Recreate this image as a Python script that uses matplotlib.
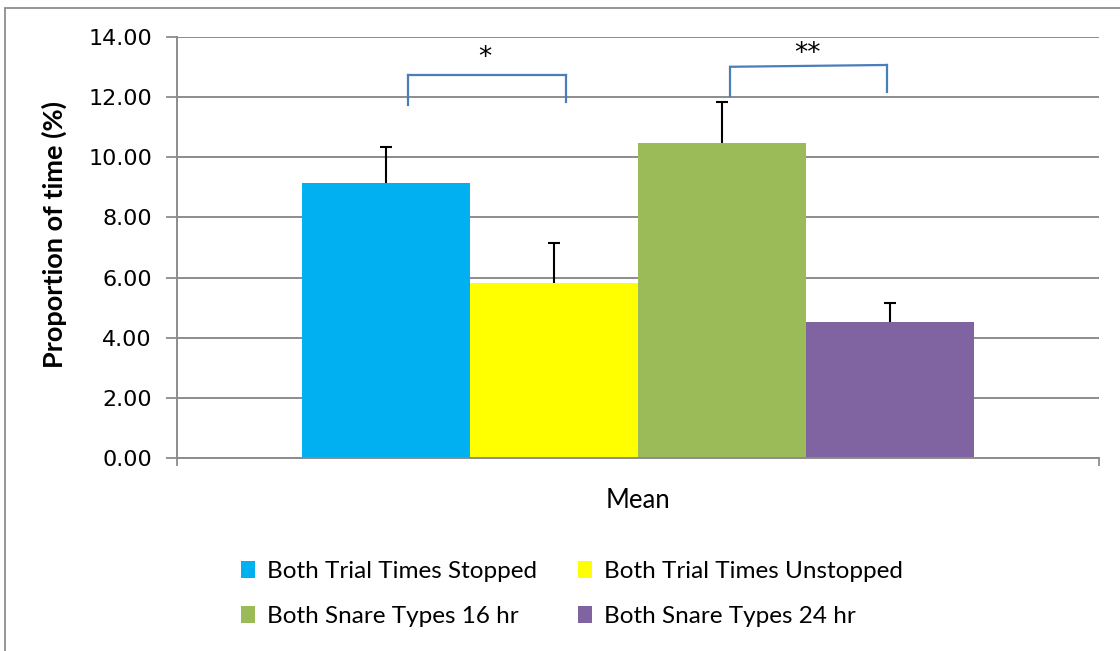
import matplotlib
matplotlib.use("Agg")
import matplotlib.pyplot as plt
from matplotlib.patches import Rectangle, Patch
import matplotlib.transforms as mtransforms

# ---- data ----
series = ["Both Trial Times Stopped", "Both Trial Times Unstopped",
          "Both Snare Types 16 hr", "Both Snare Types 24 hr"]
means = [9.15, 5.82, 10.48, 4.52]
errors = [1.19, 1.33, 1.36, 0.63]
colors = ["#00B0F0", "#FFFF00", "#9BBB59", "#8064A2"]
category = "Mean"
yticks = [0, 2, 4, 6, 8, 10, 12, 14]

# significance brackets: (x_left, x_right, y_left_top, y_right_top, y_left_bottom, y_right_bottom, label, label_x, label_y)
brackets = [
    (-0.250, -0.078, 12.75, 12.75, 11.73, 11.83, "*", -0.166, 13.30),
    (0.100, 0.270, 13.01, 13.07, 12.05, 12.16, "**", 0.184, 13.45),
]

W, H = 1120, 651
fig = plt.figure(figsize=(W / 100, H / 100), dpi=100)
ax = fig.add_axes([177 / W, 1 - 458 / H, (1099 - 177) / W, (458 - 37) / H])

# outer frame
fig.patches.append(Rectangle((5 / W, -0.2), 1.5, 1.2 - 7.5 / H,
                             transform=fig.transFigure, fill=False,
                             edgecolor="#8c8c8c", lw=1.3))

group_w = 0.729
n = len(means)
bw = group_w / n
xs = [-group_w / 2 + bw * (i + 0.5) for i in range(n)]

for i in range(n):
    ax.bar(xs[i], means[i], width=bw, color=colors[i], zorder=2)
    eb = ax.errorbar(xs[i], means[i], yerr=[[0], [errors[i]]], fmt="none",
                     ecolor="black", elinewidth=1.5, capsize=4.3, capthick=1.5, zorder=3)
    eb[1][0].set_visible(False)

ax.set_xlim(-0.5, 0.5)
ax.set_ylim(0, 14)
ax.set_yticks(yticks)
ax.set_yticklabels([f"{v:.2f}" for v in yticks], fontsize=16, family="DejaVu Sans")
ax.yaxis.grid(True, color="#8c8c8c", lw=1.4, zorder=0)
ax.set_axisbelow(True)
ax.set_xticks([-0.5, 0.5])
ax.set_xticklabels([])
ax.tick_params(axis="y", length=8, width=1.3, color="#8c8c8c", pad=10)
ax.tick_params(axis="x", length=6, width=1.3, color="#8c8c8c")
for s in ["top", "right"]:
    ax.spines[s].set_visible(False)
for s in ["left", "bottom"]:
    ax.spines[s].set_color("#8c8c8c")
    ax.spines[s].set_linewidth(1.4)

trans = mtransforms.blended_transform_factory(ax.transData, fig.transFigure)
ax.text(0.0, 1 - 500 / H, category, transform=trans, ha="center", va="center",
        fontsize=18.5, family="Lato")

ax.set_ylabel("Proportion of time (%)", fontsize=19.5, family="Lato", fontweight="bold")
ax.yaxis.set_label_coords(67 / W, 1 - 235 / H, transform=fig.transFigure)

bc = "#4A7EBB"
for xl, xr, ylt, yrt, ylb, yrb, lab, lx, ly in brackets:
    ax.plot([xl, xl], [ylb, ylt], color=bc, lw=1.6, zorder=4, clip_on=False)
    ax.plot([xl, xr], [ylt, yrt], color=bc, lw=1.6, zorder=4, clip_on=False)
    ax.plot([xr, xr], [yrt, yrb], color=bc, lw=1.6, zorder=4, clip_on=False)
    ax.text(lx, ly, lab, ha="center", va="center", fontsize=19, family="DejaVu Sans")

order = [0, 2, 1, 3]
handles = [Patch(facecolor=colors[i], edgecolor="none") for i in order]
labels = [series[i] for i in order]
leg = fig.legend(handles, labels, ncol=2, loc="center",
                 bbox_to_anchor=(572 / W, 1 - 594 / H), frameon=False,
                 prop={"family": "Lato", "size": 17.5},
                 handlelength=0.55, handleheight=0.7, handletextpad=0.5,
                 columnspacing=1.7, labelspacing=0.95)

fig.savefig("out.png", dpi=100)
